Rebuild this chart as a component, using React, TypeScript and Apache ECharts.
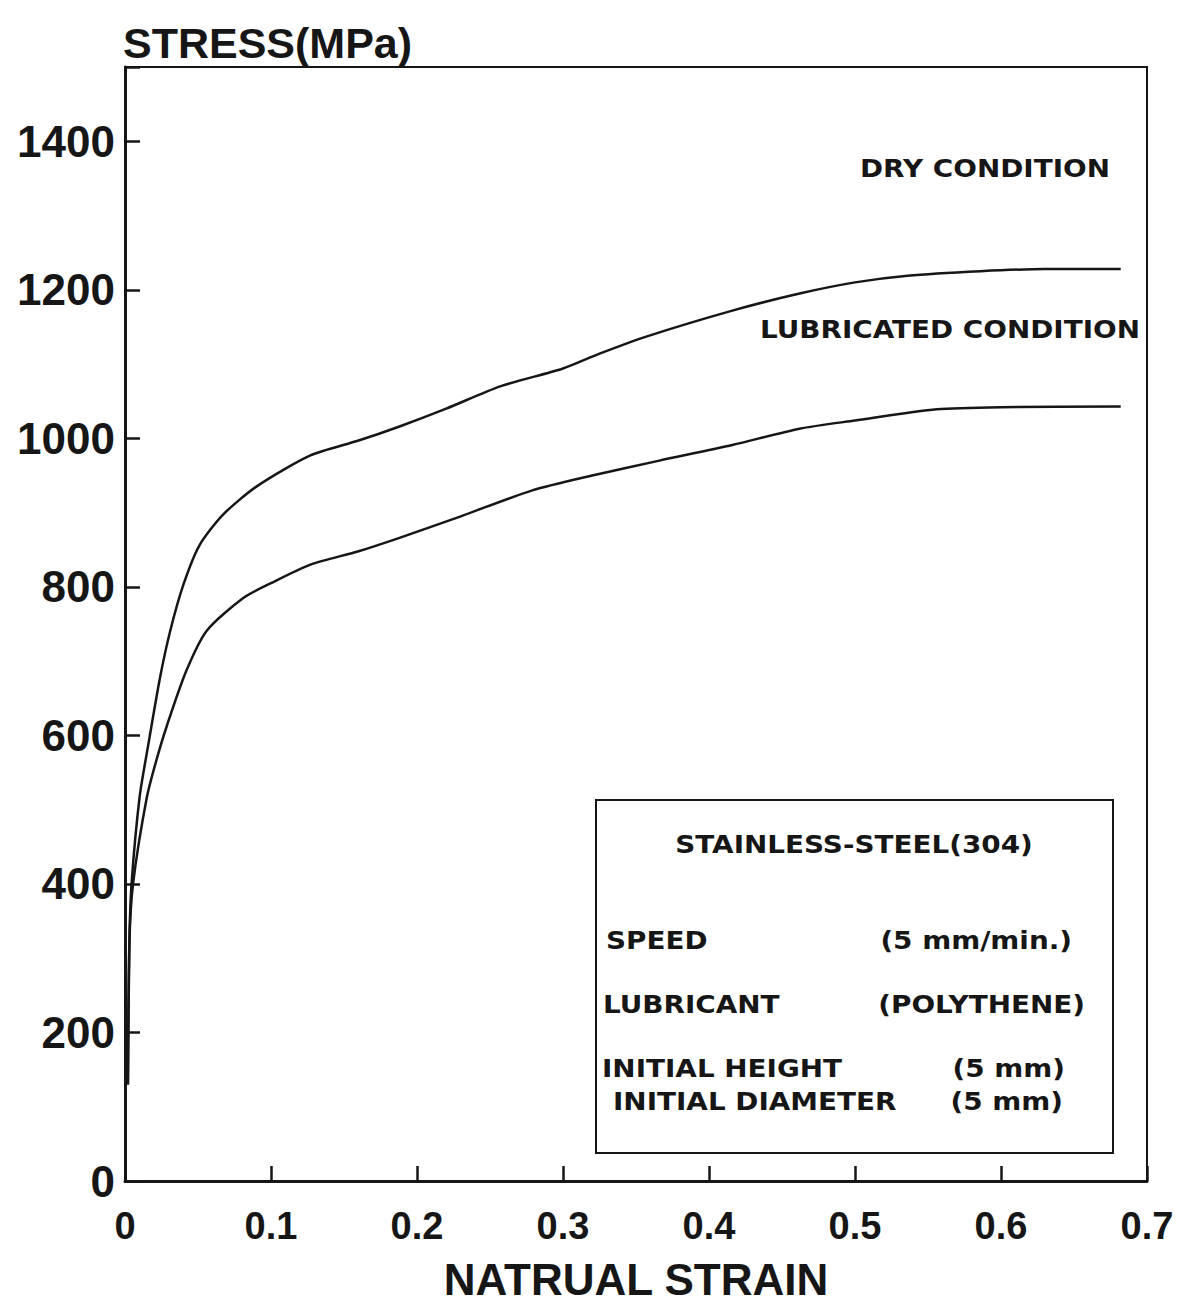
import React, { useEffect, useRef } from "react";
import * as echarts from "echarts";

// Natural strain / flow stress readings for the two test conditions
const dryStrain = [0.002, 0.003, 0.0045, 0.010, 0.016, 0.024, 0.031, 0.040, 0.051, 0.067, 0.090, 0.127, 0.160, 0.188, 0.220, 0.257, 0.300, 0.325, 0.357, 0.416, 0.462, 0.500, 0.536, 0.586, 0.630, 0.682];
const dryStress = [130, 320, 400, 517, 588, 678, 741, 803, 856, 897, 935, 977, 997, 1016, 1040, 1070, 1094, 1114, 1137, 1172, 1195, 1210, 1219, 1225, 1228, 1228];

const lubStrain = [0.002, 0.003, 0.0055, 0.015, 0.022, 0.029, 0.042, 0.056, 0.081, 0.100, 0.127, 0.160, 0.188, 0.230, 0.279, 0.320, 0.366, 0.416, 0.462, 0.500, 0.556, 0.600, 0.682];
const lubStress = [130, 320, 400, 517, 570, 615, 687, 741, 785, 805, 830, 848, 866, 895, 930, 950, 970, 991, 1013, 1024, 1039, 1042, 1043];

const xTicks = { min: 0, max: 0.7, step: 0.1 };
const yTicks = { min: 0, max: 1500, step: 200 };

const conditionLabels = ["DRY CONDITION", "LUBRICATED CONDITION"];
const specTitle = "STAINLESS-STEEL(304)";
const specNames = ["SPEED", "LUBRICANT", "INITIAL HEIGHT", "INITIAL DIAMETER"];
const specValues = ["(5 mm/min.)", "(POLYTHENE)", "(5 mm)", "(5 mm)"];

const INK = "#161616";
const LABEL_FONT = "'Liberation Sans', Arial, sans-serif";
const NOTE_FONT = "'DejaVu Sans', Verdana, sans-serif";
// the note lettering is set wide, so it is stretched horizontally about its anchor
const NOTE_STRETCH = 1.16;

function pairs(xs: number[], ys: number[]) {
  return xs.map((x, i) => [x, ys[i]]);
}

export default function App() {
  const ref = useRef<HTMLDivElement>(null);

  useEffect(() => {
    if (!ref.current) return;
    const chart = echarts.init(ref.current, undefined, { renderer: "svg" });

    const note = (text: string, x: number, y: number, align: string = "left", z = 11) => ({
      type: "text",
      x,
      y,
      z,
      scaleX: NOTE_STRETCH,
      style: {
        text,
        fill: INK,
        font: `bold 24px ${NOTE_FONT}`,
        textAlign: align,
        textVerticalAlign: "middle",
      },
    });

    const specRowsY = [941, 1005, 1069, 1102];
    const specNameX = [606, 603, 602, 613];
    const specValueX = [1072, 1085, 1065, 1063];

    const graphic: any[] = [
      {
        type: "text",
        left: 123,
        top: 21,
        style: {
          text: "STRESS(MPa)",
          fill: INK,
          font: `bold 43px ${LABEL_FONT}`,
        },
      },
      note(conditionLabels[0], 1110, 169, "right", 5),
      note(conditionLabels[1], 1140, 330, "right", 5),
      {
        type: "rect",
        shape: { x: 596, y: 800, width: 517, height: 353 },
        style: { fill: "#fff", stroke: INK, lineWidth: 2 },
        z: 10,
      },
      note(specTitle, 854, 845, "center"),
      ...specNames.map((n, i) => note(n, specNameX[i], specRowsY[i], "left")),
      ...specValues.map((v, i) => note(v, specValueX[i], specRowsY[i], "right")),
    ];

    const lineSeries = (name: string, data: number[][]) => ({
      name,
      type: "line",
      data,
      smooth: 0.25,
      symbol: "none",
      lineStyle: { color: INK, width: 2.5 },
      z: 3,
    });

    chart.setOption({
      animation: false,
      backgroundColor: "#fff",
      grid: {
        left: 125,
        top: 67,
        right: 36,
        bottom: 121,
        show: true,
        borderColor: INK,
        borderWidth: 2,
        backgroundColor: "transparent",
      },
      xAxis: {
        type: "value",
        min: xTicks.min,
        max: xTicks.max,
        interval: xTicks.step,
        name: "NATRUAL STRAIN",
        nameLocation: "middle",
        nameGap: 76,
        nameTextStyle: { color: INK, fontFamily: LABEL_FONT, fontWeight: "bold", fontSize: 44 },
        axisLine: { show: true, lineStyle: { color: INK, width: 3 } },
        axisTick: { show: true, inside: true, length: 15, lineStyle: { color: INK, width: 2.5 } },
        axisLabel: {
          color: INK,
          fontFamily: LABEL_FONT,
          fontWeight: "bold",
          fontSize: 38,
          margin: 26,
          formatter: (v: number) => (v === 0 ? "0" : v.toFixed(1)),
        },
        splitLine: { show: false },
      },
      yAxis: {
        type: "value",
        min: yTicks.min,
        max: yTicks.max,
        interval: yTicks.step,
        axisLine: { show: true, lineStyle: { color: INK, width: 3 } },
        axisTick: { show: true, inside: true, length: 15, lineStyle: { color: INK, width: 2.5 } },
        axisLabel: {
          color: INK,
          fontFamily: LABEL_FONT,
          fontWeight: "bold",
          fontSize: 44,
          margin: 10,
          formatter: (v: number) => (v > 1400 ? "" : String(v)),
        },
        splitLine: { show: false },
      },
      series: [
        lineSeries("Dry condition", pairs(dryStrain, dryStress)),
        lineSeries("Lubricated condition", pairs(lubStrain, lubStress)),
      ],
      graphic,
    });

    return () => chart.dispose();
  }, []);

  return (
    <div
      ref={ref}
      style={{ position: "absolute", left: 0, top: 0, width: 1183, height: 1306, background: "#fff" }}
    />
  );
}
